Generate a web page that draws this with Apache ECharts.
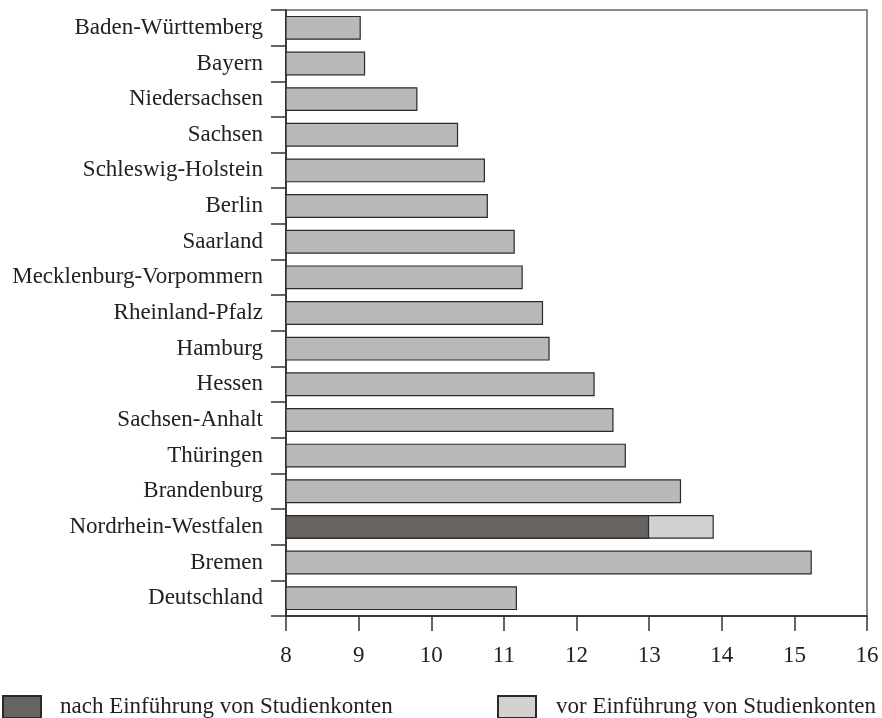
<!DOCTYPE html>
<html>
<head>
<meta charset="utf-8">
<script src="https://cdn.jsdelivr.net/npm/echarts@6/dist/echarts.min.js"></script>
<style>
  html, body { margin: 0; padding: 0; background: #fff; }
  #box1 { width: 882px; height: 718px; }
</style>
</head>
<body>
<div id="box1"></div>
<script>
var chart = echarts.init(document.getElementById('box1'));

// Bundesländer, von oben nach unten
var laender = ['Baden-Württemberg', 'Bayern', 'Niedersachsen', 'Sachsen', 'Schleswig-Holstein',
  'Berlin', 'Saarland', 'Mecklenburg-Vorpommern', 'Rheinland-Pfalz', 'Hamburg', 'Hessen',
  'Sachsen-Anhalt', 'Thüringen', 'Brandenburg', 'Nordrhein-Westfalen', 'Bremen', 'Deutschland'];

// Werte der grauen Balken (NRW separat)
var werte = [9.03, 9.09, 9.81, 10.37, 10.74, 10.78, 11.15, 11.26, 11.54, 11.63, 12.25,
  12.51, 12.68, 13.44, null, 15.24, 11.18];

// Nordrhein-Westfalen
var vorStudienkonten = [null, null, null, null, null, null, null, null, null, null, null,
  null, null, null, 13.89, null, null];
var nachStudienkonten = [null, null, null, null, null, null, null, null, null, null, null,
  null, null, null, 13.0, null, null];

var xTicks = [8, 9, 10, 11, 12, 13, 14, 15, 16];

var schrift = '"Liberation Serif", "DejaVu Serif", serif';

option = {
  animation: false,
  textStyle: { fontFamily: schrift },
  legend: [{
    data: ['nach Einführung von Studienkonten'],
    left: 2,
    top: 695,
    icon: 'rect',
    itemWidth: 38,
    itemHeight: 22,
    padding: 0,
    textStyle: { fontFamily: schrift, fontSize: 23, color: '#222', padding: [0, 0, 0, 14] }
  }, {
    data: ['vor Einführung von Studienkonten'],
    left: 497,
    top: 695,
    icon: 'rect',
    itemWidth: 38,
    itemHeight: 22,
    padding: 0,
    textStyle: { fontFamily: schrift, fontSize: 23, color: '#222', padding: [0, 0, 0, 15] }
  }],
  grid: {
    left: 286,
    top: 10,
    right: 15,
    bottom: 102,
    show: true,
    borderColor: '#666',
    borderWidth: 1.5
  },
  xAxis: {
    type: 'value',
    min: xTicks[0],
    max: xTicks[xTicks.length - 1],
    interval: 1,
    axisLine: { show: true, lineStyle: { color: '#222', width: 1.5 } },
    axisTick: { show: true, length: 15, lineStyle: { color: '#333', width: 1.5 } },
    axisLabel: { margin: 28, fontSize: 23, color: '#222', fontFamily: schrift },
    splitLine: { show: false }
  },
  yAxis: {
    type: 'category',
    data: laender,
    inverse: true,
    axisLine: { show: true, lineStyle: { color: '#222', width: 1.5 } },
    axisTick: { show: true, length: 15, lineStyle: { color: '#333', width: 1.5 } },
    axisLabel: { margin: 23, fontSize: 23, color: '#222', fontFamily: schrift },
    splitLine: { show: false }
  },
  series: [{
    name: 'Länder',
    type: 'bar',
    data: werte,
    barCategoryGap: '33%',
    barGap: '-100%',
    itemStyle: { color: '#bab9b7', borderColor: '#2a2a2a', borderWidth: 1.2 }
  }, {
    name: 'vor Einführung von Studienkonten',
    type: 'bar',
    data: vorStudienkonten,
    barGap: '-100%',
    itemStyle: { color: '#d2d1cf', borderColor: '#2a2a2a', borderWidth: 1.2 }
  }, {
    name: 'nach Einführung von Studienkonten',
    type: 'bar',
    data: nachStudienkonten,
    barGap: '-100%',
    itemStyle: { color: '#676361', borderColor: '#2a2a2a', borderWidth: 1.2 }
  }]
};

chart.setOption(option);
</script>
</body>
</html>
